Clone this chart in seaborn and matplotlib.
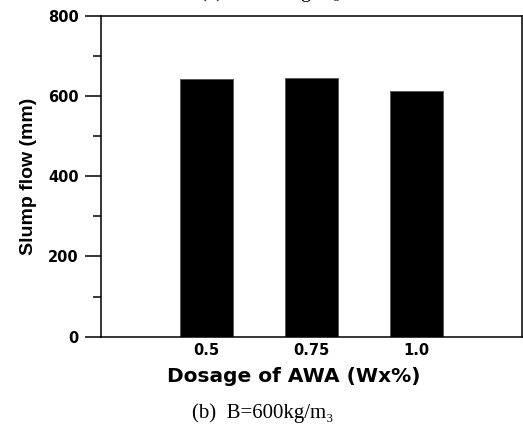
import matplotlib
matplotlib.use("Agg")
import matplotlib.pyplot as plt
import seaborn as sns
import pandas as pd
from matplotlib.ticker import MultipleLocator

dosage = ["0.5", "0.75", "1.0"]
slump_flow = [642, 644, 612]

df = pd.DataFrame({"dosage": dosage, "slump": slump_flow})

sns.set_style("ticks")
plt.rcParams["font.family"] = ["DejaVu Sans"]
for k in ["text.color", "axes.labelcolor", "xtick.color", "ytick.color", "axes.edgecolor"]:
    plt.rcParams[k] = "black"

fig = plt.figure(figsize=(5.23, 4.24), dpi=100)
ax = fig.add_axes([0.193, 0.206, 0.805, 0.757])

sns.barplot(data=df, x="dosage", y="slump", color="black", width=0.5,
            saturation=1, ax=ax, errorbar=None, edgecolor="#555555", linewidth=0.6)

ax.set_xlim(-1, 3)
ax.set_ylim(0, 800)
ax.yaxis.set_major_locator(MultipleLocator(200))
ax.yaxis.set_minor_locator(MultipleLocator(100))
ax.tick_params(axis="y", which="major", direction="out", length=11.5, width=1.1,
               labelsize=10.5, pad=4.5)
ax.tick_params(axis="y", which="minor", direction="out", length=5.8, width=1.1)
ax.tick_params(axis="x", length=0, labelsize=10.5, pad=4.5)
for lab in ax.get_xticklabels() + ax.get_yticklabels():
    lab.set_fontweight("bold")

for s in ax.spines.values():
    s.set_linewidth(1.1)
    s.set_color("black")

ax.set_xlabel("Dosage of AWA (Wx%)", fontsize=14.5, fontweight="bold", labelpad=6)
ax.xaxis.set_label_coords(0.458, -0.093)
ax.set_ylabel("Slump flow (mm)", fontsize=14, fontweight="bold", labelpad=8,
              family=["Liberation Sans", "DejaVu Sans"])

serif = ["Liberation Serif", "DejaVu Serif"]
fig.text(192 / 523, 0.014, "(b)  B=600kg/m\u2083", ha="left", va="baseline",
         fontsize=15, family=serif)
fig.text(200 / 523, 1.006, "(a)  B=500kg/m\u2083", ha="left", va="baseline",
         fontsize=15, family=serif)

fig.savefig("out.png", dpi=100)
